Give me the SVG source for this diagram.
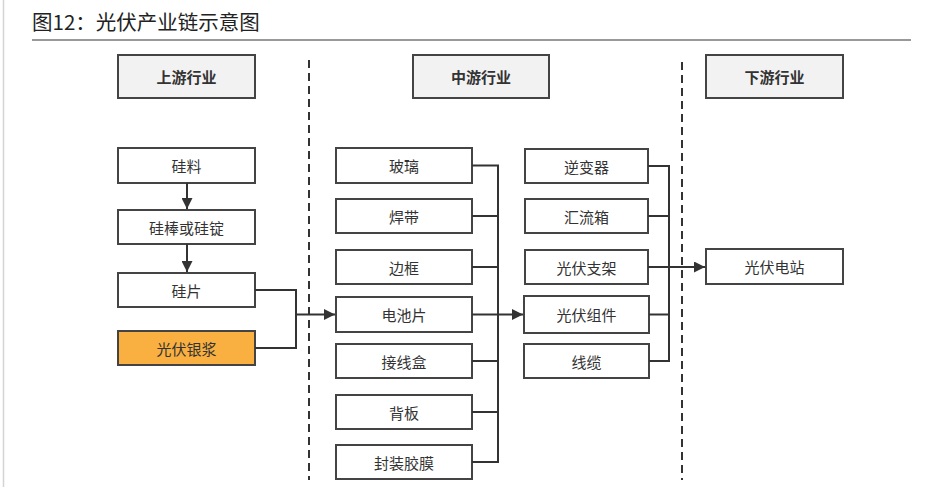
<svg xmlns="http://www.w3.org/2000/svg" width="926" height="487" viewBox="0 0 926 487">
<defs>
<style>
.box{fill:#fff;stroke:#444;stroke-width:2}
.hdr{fill:#f2f2f2;stroke:#444;stroke-width:2}
.hl{fill:#f9b040;stroke:#444;stroke-width:2}
.t{font-family:"Noto Sans CJK SC","Noto Sans",sans-serif;font-size:15px;fill:#333;text-anchor:middle;dominant-baseline:central}
.th{font-family:"Noto Sans CJK SC","Noto Sans",sans-serif;font-size:15px;font-weight:bold;fill:#333;text-anchor:middle;dominant-baseline:central}
.c{fill:none;stroke:#333;stroke-width:2}
.d{fill:none;stroke:#333;stroke-width:2;stroke-dasharray:8,5}
</style>
<marker id="ah" viewBox="0 0 10 10" refX="10" refY="5" markerWidth="5.5" markerHeight="5.5" markerUnits="strokeWidth" orient="auto">
<path d="M0,0 L10,5 L0,10 z" fill="#333"/>
</marker>
</defs>
<rect width="926" height="487" fill="#fff"/>
<line x1="3.5" y1="0" x2="3.5" y2="487" stroke="#d4d4d4" stroke-width="1.5"/>
<text x="32" y="30" font-family="&quot;Noto Sans CJK SC&quot;,sans-serif" font-size="20.5" fill="#222">图12：光伏产业链示意图</text>
<line x1="32" y1="40" x2="911" y2="40" stroke="#777" stroke-width="1.5"/>

<g id="dividers">
<line class="d" x1="309" y1="60" x2="309" y2="480"/>
<line class="d" x1="682" y1="62" x2="682" y2="480"/>
</g>

<g id="h-up"><rect class="hdr" x="118" y="55" width="137" height="43"/><text class="th" x="186.5" y="76.5">上游行业</text></g>
<g id="h-mid"><rect class="hdr" x="413" y="55" width="136" height="43"/><text class="th" x="481" y="76.5">中游行业</text></g>
<g id="h-down"><rect class="hdr" x="706" y="55" width="137" height="43"/><text class="th" x="774.5" y="76.5">下游行业</text></g>

<g id="n-guiliao"><rect class="box" x="118" y="148" width="137" height="35"/><text class="t" x="186.5" y="165.5">硅料</text></g>
<g id="n-guibang"><rect class="box" x="118" y="210" width="137" height="34"/><text class="t" x="186.5" y="227">硅棒或硅锭</text></g>
<g id="n-guipian"><rect class="box" x="118" y="273" width="137" height="34"/><text class="t" x="186.5" y="290">硅片</text></g>
<g id="n-yinjiang"><rect class="hl" x="118" y="331" width="137" height="34"/><text class="t" x="186.5" y="348">光伏银浆</text></g>

<g id="n-boli"><rect class="box" x="336" y="148" width="136" height="35"/><text class="t" x="404" y="165.5">玻璃</text></g>
<g id="n-handai"><rect class="box" x="336" y="199" width="136" height="34"/><text class="t" x="404" y="216">焊带</text></g>
<g id="n-biankuang"><rect class="box" x="336" y="250" width="136" height="34"/><text class="t" x="404" y="267">边框</text></g>
<g id="n-dianchipian"><rect class="box" x="336" y="297" width="136" height="35"/><text class="t" x="404" y="314.5">电池片</text></g>
<g id="n-jiexianhe"><rect class="box" x="336" y="344" width="136" height="34"/><text class="t" x="404" y="361">接线盒</text></g>
<g id="n-beiban"><rect class="box" x="336" y="395" width="136" height="34"/><text class="t" x="404" y="412">背板</text></g>
<g id="n-jiaomo"><rect class="box" x="336" y="445" width="136" height="34"/><text class="t" x="404" y="462">封装胶膜</text></g>

<g id="n-nibianqi"><rect class="box" x="525" y="149" width="123" height="34"/><text class="t" x="586.5" y="166">逆变器</text></g>
<g id="n-huiliuxiang"><rect class="box" x="525" y="199" width="123" height="34"/><text class="t" x="586.5" y="216">汇流箱</text></g>
<g id="n-zhijia"><rect class="box" x="525" y="250" width="123" height="34"/><text class="t" x="586.5" y="267">光伏支架</text></g>
<g id="n-zujian"><rect class="box" x="524" y="296" width="125" height="37"/><text class="t" x="586.5" y="314.5">光伏组件</text></g>
<g id="n-xianlan"><rect class="box" x="524" y="344" width="125" height="34"/><text class="t" x="586.5" y="361">线缆</text></g>

<g id="n-dianzhan"><rect class="box" x="706" y="249" width="137" height="35"/><text class="t" x="774.5" y="266.5">光伏电站</text></g>

<g id="connectors">
<line class="c" x1="187" y1="183" x2="187" y2="209" marker-end="url(#ah)"/>
<line class="c" x1="187" y1="244" x2="187" y2="272" marker-end="url(#ah)"/>
<polyline class="c" points="255,290 296,290 296,348 255,348"/>
<line class="c" x1="296" y1="314.5" x2="335" y2="314.5" marker-end="url(#ah)"/>
<polyline class="c" points="472,165.5 498,165.5 498,462 472,462"/>
<line class="c" x1="472" y1="216" x2="498" y2="216"/>
<line class="c" x1="472" y1="267" x2="498" y2="267"/>
<line class="c" x1="472" y1="361" x2="498" y2="361"/>
<line class="c" x1="472" y1="412" x2="498" y2="412"/>
<line class="c" x1="472" y1="314.5" x2="523" y2="314.5" marker-end="url(#ah)"/>
<polyline class="c" points="648,166 669,166 669,361 649,361"/>
<line class="c" x1="648" y1="216" x2="669" y2="216"/>
<line class="c" x1="649" y1="314.5" x2="669" y2="314.5"/>
<line class="c" x1="648" y1="267" x2="705" y2="267" marker-end="url(#ah)"/>
</g>
</svg>
